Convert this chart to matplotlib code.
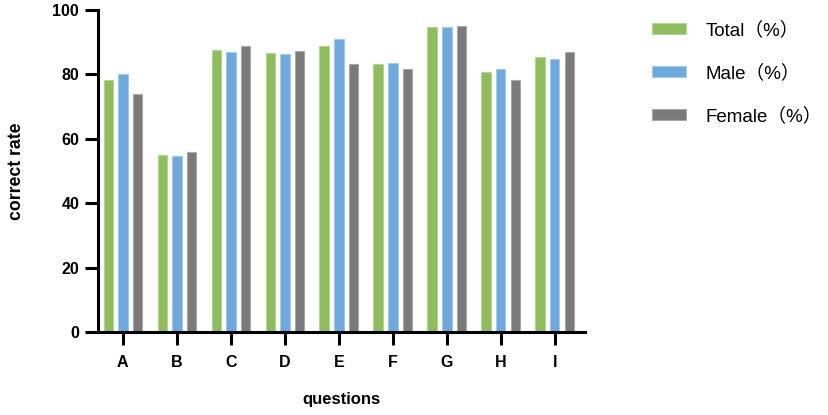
import matplotlib.pyplot as plt
import numpy as np

# данные
questions = ['A', 'B', 'C', 'D', 'E', 'F', 'G', 'H', 'I']
total = [78.3, 55.1, 87.6, 86.6, 88.7, 83.1, 94.8, 80.6, 85.5]
male = [80.1, 54.7, 87.0, 86.4, 90.9, 83.5, 94.8, 81.6, 84.8]
female = [74.0, 55.8, 88.8, 87.2, 83.2, 81.8, 95.0, 78.3, 87.0]
series_names = ['Total（%）', 'Male（%）', 'Female（%）']

colors = ['#8fbc5c', '#6fa8dc', '#7a7a7a']
edges = ['#b4d494', '#a2c8ec', '#a8a8a8']

plt.rcParams['font.family'] = ['Liberation Sans', 'Noto Sans CJK SC', 'DejaVu Sans']

fig = plt.figure(figsize=(8.29, 4.15), dpi=100)
ax = fig.add_axes([98/829, 1 - 332/415, (585 - 98)/829, (332 - 10)/415])

x = np.arange(len(questions))
w = 0.175
off = 0.27
for i, vals in enumerate([total, male, female]):
    ax.bar(x + (i - 1) * off, vals, width=w, color=colors[i], edgecolor=edges[i],
           linewidth=0.8, label=series_names[i], zorder=2)

ax.set_xlim(-0.46, 8.56)
ax.set_ylim(0, 100)
ax.set_yticks([0, 20, 40, 60, 80, 100])
ax.set_xticks(x)
ax.set_xticklabels(questions)

for s in ['top', 'right']:
    ax.spines[s].set_visible(False)
for s in ['left', 'bottom']:
    ax.spines[s].set_linewidth(2.2)
    ax.spines[s].set_capstyle('projecting')

ax.tick_params(axis='both', width=2.2, length=9.5, labelsize=11.5, pad=4)
ax.tick_params(axis='x', pad=7)
for lab in ax.get_xticklabels() + ax.get_yticklabels():
    lab.set_fontweight('bold')

ax.set_xlabel('questions', fontsize=12, fontweight='bold', labelpad=16)
ax.set_ylabel('correct rate', fontsize=12.7, fontweight='bold', labelpad=20)

leg = ax.legend(loc='upper left', bbox_to_anchor=(652/829, 1 - 21/415),
                bbox_transform=fig.transFigure, frameon=False, fontsize=13.5,
                handlelength=1.8, handleheight=0.5, handletextpad=1.05,
                labelspacing=1.35, borderpad=0, borderaxespad=0)

fig.savefig('out.png', dpi=100)
